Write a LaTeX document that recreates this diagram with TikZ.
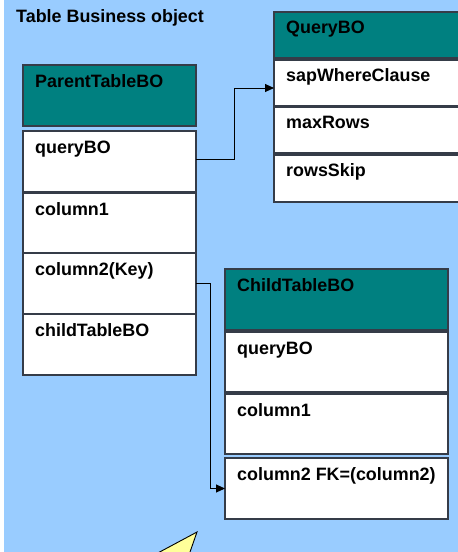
\documentclass[tikz,border=0pt]{standalone}
\usepackage{fontspec}
\setmainfont{Liberation Sans}
\usetikzlibrary{arrows.meta}
\definecolor{bgblue}{HTML}{99CCFF}
\definecolor{teal}{HTML}{008080}
\definecolor{edge}{HTML}{353C48}
\definecolor{callout}{HTML}{FFFF99}
\tikzset{
  cell/.style={draw=edge, line width=1.2pt, fill=white, anchor=north west, inner sep=0pt, outer sep=0pt},
  head/.style={cell, fill=teal},
  txt/.style={anchor=base west, inner sep=0pt, font=\fontsize{17.9}{20}\bfseries\selectfont},
  conn/.style={draw=black, line width=0.9pt, -{Triangle[length=9pt,width=8pt]}}
}
\begin{document}
\begin{tikzpicture}[x=1pt,y=-1pt]
\clip (0,0) rectangle (458,552);
\fill[white] (0,0) rectangle (458,552);
\fill[bgblue] (4,0) rectangle (458,552);
\node[txt] (title) at (16,22) {Table Business object};
% Parent table
\node[head, minimum width=173pt, minimum height=61pt] (ph) at (23,65) {};
\node[cell, minimum width=173pt, minimum height=61pt] (pq) at (23,131) {};
\node[cell, minimum width=173pt, minimum height=60pt] (pc1) at (23,193) {};
\node[cell, minimum width=173pt, minimum height=61pt] (pc2) at (23,253) {};
\node[cell, minimum width=173pt, minimum height=61pt] (pch) at (23,314) {};
\foreach \n/\t in {ph/ParentTableBO, pq/queryBO, pc1/column1, pc2/column2(Key), pch/childTableBO}
  \node[txt] at ([shift={(12pt,-22pt)}]\n.north west) {\t};
% Query BO
\node[head, minimum width=200pt, minimum height=46pt] (qh) at (274,12) {};
\node[cell, minimum width=200pt, minimum height=46pt] (qs) at (274,60) {};
\node[cell, minimum width=200pt, minimum height=46pt] (qm) at (274,107) {};
\node[cell, minimum width=200pt, minimum height=47pt] (qr) at (274,155) {};
\foreach \n/\t in {qh/QueryBO, qs/sapWhereClause, qm/maxRows, qr/rowsSkip}
  \node[txt] at ([shift={(12pt,-21pt)}]\n.north west) {\t};
% Child table
\node[head, minimum width=223pt, minimum height=61pt] (ch) at (225,269) {};
\node[cell, minimum width=223pt, minimum height=60pt] (cq) at (225,332) {};
\node[cell, minimum width=223pt, minimum height=60pt] (cc1) at (225,394) {};
\node[cell, minimum width=223pt, minimum height=61pt] (cc2) at (225,458) {};
\foreach \n/\t in {ch/ChildTableBO, cq/queryBO, cc1/column1, cc2/column2 FK=(column2)}
  \node[txt] at ([shift={(12pt,-22pt)}]\n.north west) {\t};
% connectors
\draw[conn] ([yshift=2.5pt]pq.east) -- ++(38pt,0) |- ([yshift=-5pt]qs.west);
\draw[conn] (pc2.east) -- ++(14pt,0) |- (cc2.west);
% callout pointer
\draw[fill=callout, line width=0.9pt, line join=miter] (141,562) -- (197,532) -- (186.5,562) -- cycle;
\end{tikzpicture}
\end{document}
